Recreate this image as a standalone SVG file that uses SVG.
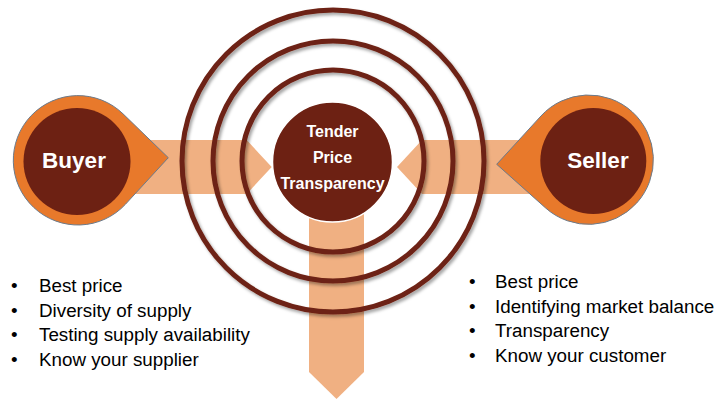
<svg xmlns="http://www.w3.org/2000/svg" width="721" height="400" viewBox="0 0 721 400">
  <defs>
    <filter id="shadow" x="-10%" y="-10%" width="130%" height="130%">
      <feDropShadow dx="2" dy="2.5" stdDeviation="1.6" flood-color="#000" flood-opacity="0.35"/>
    </filter>
    <style>
      .band { fill: #F0B082; }
      .ring { fill: none; stroke: #6D2113; stroke-width: 5; filter: url(#shadow); }
      .drop { fill: #E8792B; stroke: #6B7B8C; stroke-width: 1; }
      .core { fill: #6D2113; }
      .label { font-family: "Liberation Sans", Arial, sans-serif; font-weight: bold; fill: #FFFFFF; text-anchor: middle; }
      .list { font-family: "Liberation Sans", Arial, sans-serif; font-size: 18.8px; fill: #000000; }
    </style>
  </defs>
  <rect width="721" height="400" fill="#FFFFFF"/>

  <g id="connectors">
    <path class="band" d="M120 140 L246.7 140 L271.7 167 L246.7 194 L120 194 Z"/>
    <path class="band" d="M545 140 L422 140 L397 167 L422 194 L545 194 Z"/>
    <path class="band" d="M309 200 L364 200 L364 372 L336.5 399 L309 372 Z"/>
  </g>

  <g id="rings">
    <circle class="ring" cx="333" cy="161" r="151"/>
    <circle class="ring" cx="333" cy="161" r="120"/>
    <circle class="ring" cx="333" cy="161" r="91"/>
  </g>

  <g id="center">
    <circle cx="332.5" cy="162" r="60" fill="#6D2113" stroke="#FFFFFF" stroke-width="1.5"/>
    <text class="label" x="332.5" y="136.5" font-size="16">Tender</text>
    <text class="label" x="332.5" y="162.5" font-size="16">Price</text>
    <text class="label" x="332.5" y="188.5" font-size="16">Transparency</text>
  </g>

  <g id="buyer">
    <path class="drop" d="M168.3 157.7 L123.03 113.84 A64.7 64.7 0 1 0 125.61 204.11 Z"/>
    <circle class="core" cx="77" cy="161.5" r="53.5"/>
    <text class="label" x="74" y="167.5" font-size="22.5">Buyer</text>
  </g>

  <g id="seller">
    <path class="drop" d="M496.7 164.3 L541.0 115.96 A64.7 64.7 0 1 1 545.6 207.96 Z"/>
    <circle class="core" cx="593.3" cy="161" r="53"/>
    <text class="label" x="598" y="167.5" font-size="22.5">Seller</text>
  </g>

  <g id="buyer-list">
    <text class="list" x="11" y="292">•</text><text class="list" x="39" y="292">Best price</text>
    <text class="list" x="11" y="316.5">•</text><text class="list" x="39" y="316.5">Diversity of supply</text>
    <text class="list" x="11" y="341">•</text><text class="list" x="39" y="341">Testing supply availability</text>
    <text class="list" x="11" y="365.5">•</text><text class="list" x="39" y="365.5">Know your supplier</text>
  </g>

  <g id="seller-list">
    <text class="list" x="469" y="288">•</text><text class="list" x="495" y="288">Best price</text>
    <text class="list" x="469" y="312.5">•</text><text class="list" x="495" y="312.5">Identifying market balance</text>
    <text class="list" x="469" y="337">•</text><text class="list" x="495" y="337">Transparency</text>
    <text class="list" x="469" y="361.5">•</text><text class="list" x="495" y="361.5">Know your customer</text>
  </g>
</svg>
